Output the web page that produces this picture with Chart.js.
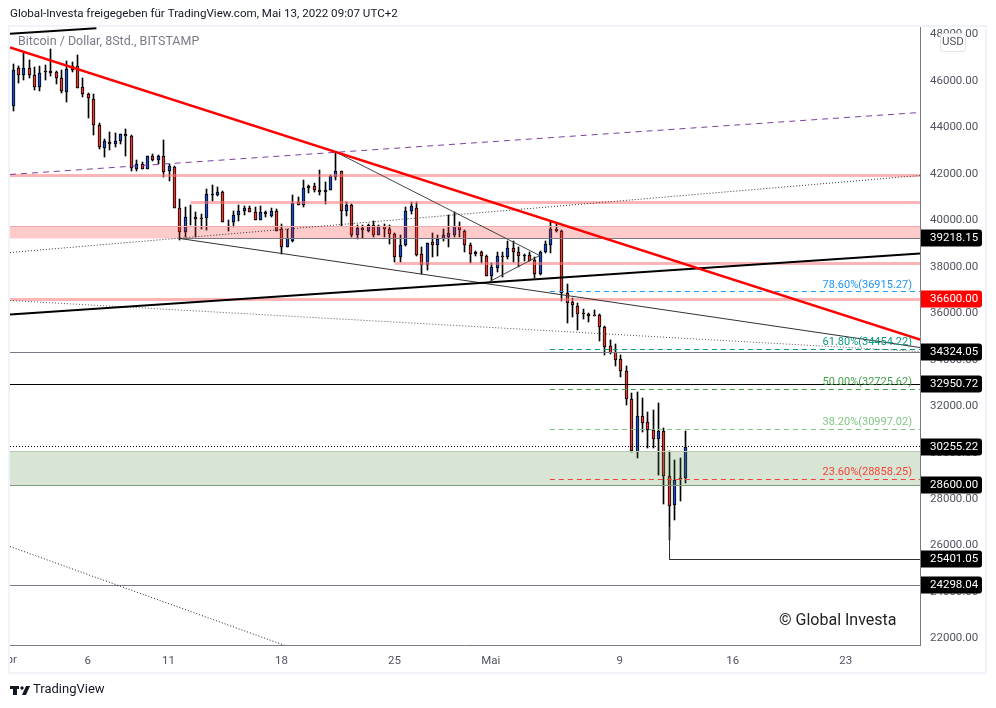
<!DOCTYPE html>
<html>
<head>
<meta charset="utf-8">
<title>Bitcoin / Dollar</title>
<script src="https://cdn.jsdelivr.net/npm/chart.js@4"></script>
<style>
    html, body { margin: 0; padding: 0; background: #fff; }
    canvas { display: block; }
</style>
</head>
<body>
<canvas id="btcChart" width="996" height="708"></canvas>
<script>
// 8h candles, index 0 is the leftmost candle
const opens = [44940,46540,46250,46570,46260,45730,46390,46410,46400,46130,45520,46640,46640,45750,45450,45230,44110,43110,43380,43280,43410,43720,43650,42220,42420,42220,42750,42590,42750,42120,42300,40540,39490,40160,40150,40110,40090,41100,41070,41230,39990,39920,40210,40400,40540,40370,40010,40340,40190,40420,39630,38870,39130,40770,40670,41460,41460,41310,41210,41300,41860,42130,40420,40670,39350,39680,39560,39780,39390,39740,39630,39420,38410,38920,40400,40540,38560,38080,39050,38920,39180,39300,39390,39740,39560,38950,38540,38640,38470,37600,37940,38470,38420,38820,38640,38460,38520,38300,37670,38620,38950,39630,39560,36860,36490,36320,35990,35980,35930,35930,35420,34570,34340,34040,33520,32320,30020,31580,31300,30970,30580,30950,29000,27740,28890,28890];
const highs = [46710,46640,47200,46910,46590,46640,46670,47380,46410,46450,46840,46810,47120,46120,45490,45430,44180,43510,43820,43770,43730,43950,43680,42600,42520,42780,42860,42820,43440,42430,42320,40900,40570,40680,40380,40280,41360,41500,41430,41280,40020,40400,40640,40610,40610,40570,40610,40420,40540,40500,39850,39630,41070,41000,41720,41540,41600,42170,41640,41930,42940,42130,40780,40710,39820,39810,39850,39950,39780,39850,39780,39450,39380,40570,40770,40770,38870,39030,39460,39380,39630,40250,40350,39920,39590,39030,38700,38660,38490,38170,38630,38630,39130,39130,38870,38560,38630,38420,38670,39130,39960,39850,39590,37270,36650,36450,36190,36000,36120,35970,35430,34830,34680,34220,33750,32560,32630,32370,31770,31840,32140,31070,30090,29700,29780,30950];
const lows = [44690,45900,46060,46130,45620,45550,46020,46210,45880,45490,45090,46390,45690,45300,44400,43680,43050,42720,43010,43150,43290,42750,42120,42130,42200,42210,42550,42430,41860,41710,40530,39160,39280,39780,39280,39630,39590,40850,41060,39930,39560,39710,39950,40210,40350,40000,40000,40140,40140,39530,38560,38840,39060,40640,40570,41170,41210,41070,40710,41290,41740,39750,40180,39300,39180,39250,39480,39300,39380,39280,38960,38200,38200,38890,40280,38480,37700,37880,38410,38480,39130,38870,39300,39280,38630,38160,38480,38160,37600,37380,37770,37580,38340,38200,38010,38270,38240,37510,37660,38610,38590,39490,36520,35570,35830,35260,35760,35640,35870,34800,34190,34250,33720,33250,32070,30020,29760,30880,30190,30210,29020,27800,26220,27080,27940,28690];
const closes = [46490,46250,46570,46240,45730,46360,46440,46350,46120,45550,46520,46480,45700,45450,45270,44110,43150,43420,43290,43420,43720,43640,42260,42430,42220,42750,42590,42750,42070,42320,40540,39490,40150,40140,40060,40050,41140,41140,41240,39940,39960,40210,40420,40540,40350,40010,40370,40290,40420,39560,38850,39250,40750,40670,41410,41410,41300,41200,41310,41890,42140,40400,40680,39390,39680,39580,39780,39350,39740,39620,39400,38410,38940,40420,40600,38490,38070,39030,38920,39200,39350,39460,39740,39590,38950,38540,38640,38470,37610,37970,38460,38420,38820,38630,38460,38520,38270,37670,38640,38960,39630,39530,36860,36460,36360,35980,35950,35870,35880,35400,34540,34310,33980,33510,32300,30060,31580,31270,30970,30580,30940,28990,27700,28830,28860,30250];

// Axis ticks
const yTicks = [22000,24000,26000,28000,30000,32000,34000,36000,38000,40000,42000,44000,46000,48000];
const xTicks = [13.9,28.9,49.9,70.9,88.8,112.8,133.8,154.8];
const xLabels = ['6','11','18','25','Mai','9','16','23'];

// Drawn lines, x is the candle index, y the price
const xLeft = -0.56;
const xRight = 168.6;
const redTrend = [[xLeft,47440],[xRight,34870]];
const blackTrend = [[xLeft,35946],[xRight,38572]];
const blackTrendTop = [[xLeft,48030],[15.5,48271]];
const purpleDashed = [[xLeft,41973],[xRight,44642]];
const dottedUpper = [[xLeft,38615],[xRight,41930]];
const dottedMiddle = [[xLeft,36549],[xRight,34353]];
const dottedLower = [[xLeft,25959],[50.6,21697]];
const thinLower = [[31,39218],[xRight,34525]];
const triangleTop = [[59.8,42963],[97.9,38486]];
const triangleBottom = [[88.6,37367],[97.9,38486]];
const stepLow = [[122,26800],[122,25401.05],[xRight,25401.05]];

// Horizontal levels
const greyLevels = [[31,39218.15],[xLeft,34324.05],[xLeft,24298.04]];
const levelBlack = 32950.72;
const levelDotted = 30255.22;
const pinkBands = [[xLeft,41950],[33,40766],[70.9,38163],[xLeft,36600]];
const pinkZone = [39218.15,39713];
const greenZone = [28600,30048];

// Fibonacci
const fibValues = [36915.27,34454.22,32725.62,30997.02,28858.25];
const fibNames = ['78.60%','61.80%','50.00%','38.20%','23.60%'];
const fibColors = ['#2196f3','#089981','#43a047','#81c784','#f44336'];
const fibStart = 99.8;

// Price tags on the axis
const tagValues = [39218.15,36600,34324.05,32950.72,30255.22,28600,25401.05,24298.04];
const tagColors = ['#000','#ff0000','#000','#000','#000','#000','#000','#000'];

const FONT = 'Roboto, sans-serif';

function pts(list) {
    return list.map(p => ({ x: p[0], y: p[1] }));
}

function lineDs(points, color, width, dash, order) {
    return {
        type: 'line',
        data: pts(points),
        borderColor: color,
        borderWidth: width,
        borderDash: dash || [],
        pointRadius: 0,
        tension: 0,
        fill: false,
        clip: 0,
        order: order
    };
}

function zoneDs(zone, fillColor, edgeColor) {
    return {
        type: 'line',
        data: pts([[xLeft,zone[1]],[xRight,zone[1]]]),
        borderColor: edgeColor,
        borderWidth: 1,
        pointRadius: 0,
        fill: { value: zone[0] },
        backgroundColor: fillColor,
        clip: 0,
        order: 3
    };
}

const candleColors = closes.map((c, i) => c >= opens[i] ? '#1a4cc8' : '#e5392d');

const datasets = [
    {
        data: highs.map((h, i) => ({ x: i, y: [lows[i], h] })),
        backgroundColor: '#000',
        barThickness: 1,
        grouped: false,
        order: 6
    },
    {
        data: opens.map((o, i) => ({ x: i, y: [o, closes[i]] })),
        backgroundColor: candleColors,
        borderColor: '#000',
        borderWidth: 1,
        borderSkipped: false,
        barThickness: 3,
        grouped: false,
        order: 5
    },
    zoneDs(pinkZone, 'rgba(255,60,60,0.27)', '#f4a6a6'),
    zoneDs(greenZone, 'rgba(76,130,60,0.22)', '#b9ccb2'),
    lineDs([[xLeft,greenZone[0]],[xRight,greenZone[0]]], '#7c9a7c', 1, null, 2),
    lineDs([[xLeft,levelBlack],[xRight,levelBlack]], '#000', 1, null, 2),
    lineDs([[xLeft,levelDotted],[xRight,levelDotted]], '#000', 1, [1,2], 2),
    lineDs(dottedUpper, '#333', 1, [1,2], 2),
    lineDs(dottedMiddle, '#555', 1, [1,2], 2),
    lineDs(dottedLower, '#222', 1, [1,2], 2),
    lineDs(thinLower, '#333', 1, null, 2),
    lineDs(triangleTop, '#444', 1, null, 2),
    lineDs(triangleBottom, '#444', 1, null, 2),
    lineDs(stepLow, '#333', 1, null, 2),
    lineDs(purpleDashed, '#7b3fa0', 1, [6,5], 2),
    lineDs(blackTrend, '#000', 2, null, 1),
    lineDs(blackTrendTop, '#000', 2, null, 1),
    lineDs(redTrend, '#ff0000', 2.4, null, 0)
];

greyLevels.forEach(l => {
    datasets.push(lineDs([[l[0],l[1]],[xRight,l[1]]], '#787b86', 1, null, 2));
});
pinkBands.forEach(b => {
    datasets.push(lineDs([[b[0],b[1]],[xRight,b[1]]], 'rgba(255,120,120,0.55)', 3, null, 3));
});
fibValues.forEach((v, i) => {
    datasets.push(lineDs([[fibStart,v],[xRight,v]], fibColors[i], 1, [5,4], 2));
});

// Snap candles and straight lines to whole pixels so they stay crisp
const pixelSnap = {
    id: 'pixelSnap',
    beforeDatasetsDraw(chart) {
        chart.data.datasets.forEach((ds, i) => {
            const els = chart.getDatasetMeta(i).data;
            if (ds.type === 'line') {
                for (let k = 1; k < els.length; k++) {
                    if (Math.abs(els[k].y - els[k - 1].y) < 0.01) {
                        els[k].y = els[k - 1].y = Math.floor(els[k].y) + 0.5;
                    }
                    if (Math.abs(els[k].x - els[k - 1].x) < 0.01) {
                        els[k].x = els[k - 1].x = Math.floor(els[k].x) + 0.5;
                    }
                }
            } else {
                els.forEach(el => {
                    el.x = Math.floor(el.x) + 0.5;
                    el.y = Math.round(el.y);
                    el.base = Math.round(el.base);
                });
            }
        });
    }
};

// Everything around the plot that the library has no element for
const decorations = {
    id: 'decorations',
    beforeDraw(chart) {
        const ctx = chart.ctx;
        ctx.save();
        ctx.fillStyle = '#fff';
        ctx.fillRect(0, 0, chart.width, chart.height);
        ctx.strokeStyle = '#f0f3fa';
        ctx.lineWidth = 2;
        ctx.strokeRect(9, 26, 977, 647);
        ctx.restore();
    },
    afterDraw(chart) {
        const ctx = chart.ctx;
        const y = chart.scales.y;
        const area = chart.chartArea;
        ctx.save();

        // title lines
        ctx.textBaseline = 'middle';
        ctx.textAlign = 'left';
        ctx.fillStyle = '#131722';
        ctx.font = '11.6px ' + FONT;
        ctx.fillText('Global-Investa freigegeben für TradingView.com, Mai 13, 2022 09:07 UTC+2', 10, 14);
        ctx.fillStyle = '#787b86';
        ctx.font = '12.5px ' + FONT;
        ctx.fillText('Bitcoin / Dollar, 8Std., BITSTAMP', 18, 42);
        ctx.fillStyle = '#222';
        ctx.font = '16px ' + FONT;
        ctx.fillText('© Global Investa', 779, 621);

        // fib labels
        ctx.font = '11px ' + FONT;
        ctx.textAlign = 'right';
        fibValues.forEach((v, i) => {
            ctx.fillStyle = fibColors[i];
            ctx.fillText(fibNames[i] + '(' + v.toFixed(2) + ')', 912, y.getPixelForValue(v) - 7);
        });

        // price tags
        ctx.font = '11.5px ' + FONT;
        ctx.textAlign = 'left';
        tagValues.forEach((v, i) => {
            const py = Math.round(y.getPixelForValue(v));
            ctx.fillStyle = tagColors[i];
            ctx.beginPath();
            ctx.roundRect(area.right + 1, py - 8.5, 61, 17, [0, 3, 3, 0]);
            ctx.fill();
            ctx.fillStyle = '#fff';
            ctx.fillText(v.toFixed(2), 930, py + 0.5);
        });

        // USD box
        ctx.fillStyle = 'rgba(255,255,255,0.9)';
        ctx.strokeStyle = '#e0e3eb';
        ctx.lineWidth = 1;
        ctx.beginPath();
        ctx.roundRect(940.5, 33.5, 25, 18, 3);
        ctx.fill();
        ctx.stroke();
        ctx.fillStyle = '#50535e';
        ctx.textAlign = 'center';
        ctx.font = '11.5px ' + FONT;
        ctx.fillText('USD', 953, 42.5);

        // Apr is cut off by the left edge
        ctx.save();
        ctx.beginPath();
        ctx.rect(10, 650, 20, 20);
        ctx.clip();
        ctx.fillStyle = '#50535e';
        ctx.textAlign = 'center';
        ctx.fillText('Apr', 8, 660);
        ctx.restore();

        // TradingView logo
        ctx.fillStyle = '#131722';
        ctx.fillRect(10, 686, 9, 3);
        ctx.fillRect(13, 686, 4, 9);
        ctx.beginPath();
        ctx.arc(22, 688, 1.7, 0, Math.PI * 2);
        ctx.fill();
        ctx.beginPath();
        ctx.moveTo(26, 686);
        ctx.lineTo(30, 686);
        ctx.lineTo(26, 695);
        ctx.lineTo(22, 695);
        ctx.fill();
        ctx.textAlign = 'left';
        ctx.font = '13px ' + FONT;
        ctx.fillText('TradingView', 33, 690);
        ctx.restore();
    }
};

const chart = new Chart(document.getElementById('btcChart').getContext('2d'), {
    type: 'bar',
    data: { datasets: datasets },
    options: {
        responsive: false,
        animation: false,
        events: [],
        layout: { padding: { left: 10, top: 27, right: 0, bottom: 0 } },
        plugins: { legend: { display: false }, tooltip: { enabled: false } },
        scales: {
            x: {
                type: 'linear',
                offset: false,
                min: xLeft,
                max: xRight,
                grid: { display: false, drawTicks: false },
                border: { display: true, color: '#787b86' },
                afterBuildTicks: axis => { axis.ticks = xTicks.map(v => ({ value: v })); },
                afterFit: axis => { axis.height = 63; },
                ticks: {
                    color: '#50535e',
                    font: { family: FONT, size: 11.5 },
                    padding: 9,
                    autoSkip: false,
                    maxRotation: 0,
                    callback: (v, i) => xLabels[i]
                }
            },
            y: {
                type: 'linear',
                position: 'right',
                min: 21720,
                max: 48322,
                grid: { display: false, drawTicks: false },
                border: { display: true, color: '#787b86' },
                afterBuildTicks: axis => { axis.ticks = yTicks.map(v => ({ value: v })); },
                afterFit: axis => { axis.width = 76; },
                ticks: {
                    color: '#50535e',
                    font: { family: FONT, size: 11.5 },
                    padding: 10,
                    autoSkip: false,
                    callback: v => v.toFixed(2)
                }
            }
        }
    },
    plugins: [pixelSnap, decorations]
});
</script>
</body>
</html>
